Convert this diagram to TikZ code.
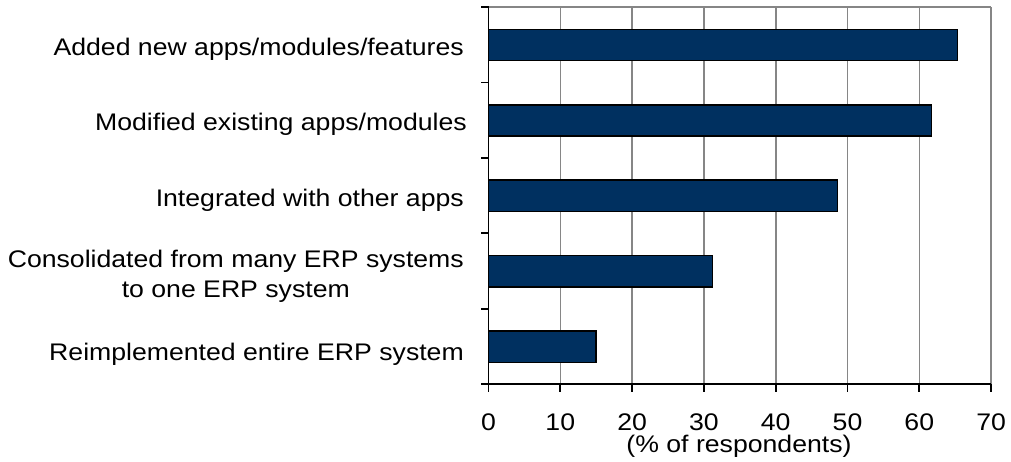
\documentclass[tikz,border=0pt]{standalone}
\usepackage{fontspec}
\setmainfont{Liberation Sans}[FakeStretch=1.11]
\definecolor{barblue}{RGB}{0,48,96}
\definecolor{gridgray}{RGB}{134,134,134}
\begin{document}
\begin{tikzpicture}[x=1pt,y=-1pt,
  font=\fontsize{24}{30.5}\selectfont,
  gridline/.style={draw=gridgray, line width=1.6pt},
  axisline/.style={draw=black, line width=1.8pt},
  bar/.style={fill=barblue, draw=black, line width=1.5pt},
  catlabel/.style={inner sep=0pt, anchor=base east},
  ticklabel/.style={inner sep=0pt, anchor=base}]
\useasboundingbox (0,0) rectangle (1011,461);
% grid lines
\foreach \v in {10,20,...,70}
  \draw[gridline] ({488.5+7.18*\v},7) -- ({488.5+7.18*\v},384.3);
\draw[gridline] (488.5,7) -- (991.1,7);
% bars
\foreach \val [count=\i from 0] in {65.3,61.7,48.6,31.2,15.0}
  \draw[bar] (488.5,{44.9+75.46*\i-15.6}) rectangle ({488.5+7.18*\val},{44.9+75.46*\i+15.6});
% axes
\draw[axisline] (488.5,7) -- (488.5,384.3) -- (991.1,384.3);
\foreach \k in {0,...,5}
  \draw[axisline] (481,{7+75.46*\k}) -- (488.5,{7+75.46*\k});
\foreach \v in {0,10,...,70}
  \draw[axisline] ({488.5+7.18*\v},384.3) -- ({488.5+7.18*\v},392);
% tick labels
\foreach \v in {0,10,...,70}
  \node[ticklabel] (t\v) at ({488.5+7.18*\v},430) {\v};
\node[ticklabel] (xlab) at (739,452) {(\% of respondents)};
% category labels
\node[catlabel] (c1) at (464,55) {Added new apps/modules/features};
\node[catlabel] (c2) at (467,130) {Modified existing apps/modules};
\node[catlabel] (c3) at (464,206.5) {Integrated with other apps};
\node[inner sep=0pt, anchor=east, align=center] (c4) at (464,276.5) {Consolidated from many ERP systems\\to one ERP system};
\node[catlabel] (c5) at (464,360) {Reimplemented entire ERP system};
\end{tikzpicture}
\end{document}
